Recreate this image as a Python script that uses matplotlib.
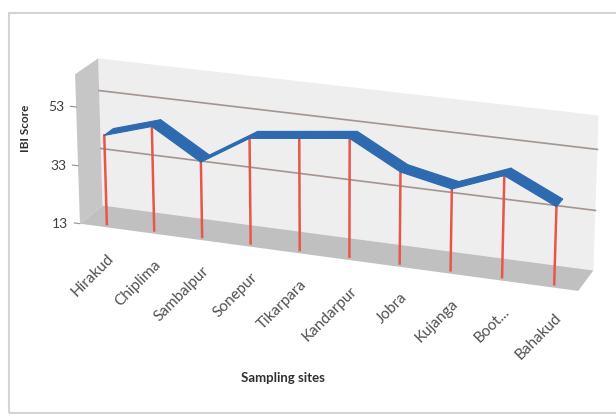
import numpy as np
import matplotlib
matplotlib.use('Agg')
import matplotlib.pyplot as plt
from matplotlib.patches import Rectangle
from matplotlib.transforms import offset_copy
from mpl_toolkits.mplot3d import proj3d
from mpl_toolkits.mplot3d.art3d import Poly3DCollection

# IBI score per sampling site
sites = ['Hirakud', 'Chiplima', 'Sambalpur', 'Sonepur', 'Tikarpara',
         'Kandarpur', 'Jobra', 'Kujanga', 'Boot...', 'Bahakud']
ibi = [43.5, 48.5, 38.5, 48.5, 50.5, 52.5, 43.5, 40.0, 46.5, 38.5]
z_ticks = [13, 33, 53]
z_min, z_max = 13, 64

plt.rcParams['font.family'] = ['Lato', 'DejaVu Sans']

fig = plt.figure(figsize=(6.16, 4.16), dpi=100)
fig.patches.append(Rectangle((9 / 616, 3 / 416), 1.2, 400 / 416, transform=fig.transFigure,
                             fill=False, edgecolor='#d4d4d4', linewidth=1.5))

ax = fig.add_axes([0.08, 0.157, 0.90, 0.84], projection='3d', computed_zorder=False)
ax.set_proj_type('persp', focal_length=1.5)
ax.view_init(elev=20, azim=-70)
ax.set_box_aspect((10, 1.06, 3.05), zoom=1.55)
ax.set_axis_off()

x = np.arange(len(sites))
x0, x1 = -0.5, len(sites) - 0.5
ax.set_xlim(x0, x1)
ax.set_ylim(0, 1)
ax.set_zlim(z_min, z_max)

# walls and floor
back = [[(x0, 1, z_min), (x1, 1, z_min), (x1, 1, z_max), (x0, 1, z_max)]]
side = [[(x0, 0, z_min), (x0, 1, z_min), (x0, 1, z_max), (x0, 0, z_max)]]
floor = [[(x0, 0, z_min), (x1, 0, z_min), (x1, 1, z_min), (x0, 1, z_min)]]
for poly, col in [(back, '#eeeeee'), (side, '#c6c6c6'), (floor, '#c0c0c0')]:
    ax.add_collection3d(Poly3DCollection(poly, facecolor=col, edgecolor='none',
                                         zorder=1, clip_on=False))

# gridlines on the back wall
for t in z_ticks[1:]:
    ax.plot([x0, x1], [1, 1], [t, t], color='#a3958f', linewidth=1.2, zorder=2, clip_on=False)

# drop lines
y_front, y_back = 0.15, 0.55
for xi, v in zip(x, ibi):
    ax.plot([xi, xi], [y_front, y_front], [z_min, v], color='#e8564a', linewidth=1.8,
            zorder=3, clip_on=False)

# ribbon line
verts = []
for i in range(len(x) - 1):
    verts.append([(x[i], y_front, ibi[i]), (x[i + 1], y_front, ibi[i + 1]),
                  (x[i + 1], y_back, ibi[i + 1]), (x[i], y_back, ibi[i])])
ax.add_collection3d(Poly3DCollection(verts, facecolor='#2d6ab0', edgecolor='#2d6ab0',
                                     linewidth=0.8, zorder=4, clip_on=False))

# small ticks on the front edge of the side wall
for t in z_ticks:
    ax.plot([x0 - 0.12, x0], [0, 0], [t, t], color='#909090', linewidth=0.8, zorder=2,
            clip_on=False)

fig.canvas.draw()


def to2d(px, py, pz):
    xp, yp, _ = proj3d.proj_transform(px, py, pz, ax.get_proj())
    return xp, yp


for t in z_ticks:
    xp, yp = to2d(x0, 0, t)
    ax.text2D(xp, yp, str(t), transform=offset_copy(ax.transData, fig, x=-12, y=0, units='dots'),
              ha='right', va='center', fontsize=10, color='#404040', clip_on=False)

# category labels below the drop line feet
lab_tr = offset_copy(ax.transData, fig, x=0, y=-27, units='dots')
for xi, s in zip(x, sites):
    xp, yp = to2d(xi, y_front, z_min)
    ax.text2D(xp, yp, s, transform=lab_tr, rotation=45, ha='right', va='top',
              rotation_mode='anchor', fontsize=11, color='#505050', clip_on=False)

fig.text(0.041, 0.692, 'IBI Score', rotation=90, ha='center', va='center',
         fontsize=8.5, fontweight='bold', color='#303030')
fig.text(0.46, 0.091, 'Sampling sites', ha='center', va='center',
         fontsize=9.5, fontweight='bold', color='#303030')

fig.savefig('out.png', dpi=100)
